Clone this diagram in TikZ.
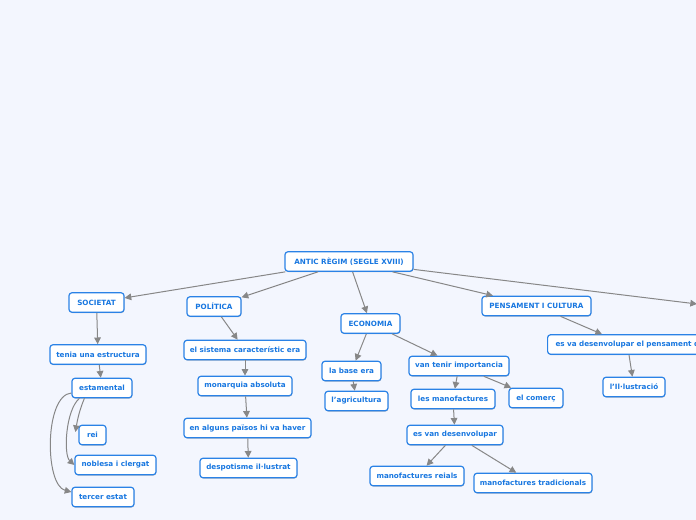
\documentclass[tikz,border=0pt]{standalone}
\usepackage{fontspec}
\setmainfont{DejaVu Sans}
\usetikzlibrary{arrows.meta,calc,shadows}
\definecolor{bg}{HTML}{F3F6FE}
\definecolor{bord}{HTML}{2A82E6}
\definecolor{txt}{HTML}{1877E0}
\definecolor{arrc}{HTML}{878787}
\begin{document}
\begin{tikzpicture}[x=0.75pt,y=-0.75pt,
 box/.style={draw=bord, line width=0.9pt, fill=white, rounded corners=2.2pt, text=txt,
   font=\fontsize{5.4}{6}\selectfont\bfseries, inner xsep=0pt, inner ysep=0pt,
   minimum height=14.6pt,
   drop shadow={shadow xshift=0.3pt, shadow yshift=-0.6pt, opacity=0.25, fill=black}},
 mw/.style={minimum width=#1*0.75pt},
 link/.style={draw=arrc, line width=0.75pt, -{Triangle[length=5pt,width=5pt]}}
]
\fill[bg] (0,0) rectangle (696,520);
\useasboundingbox (0,0) rectangle (696,520);
\begin{scope}
\clip (0,0) rectangle (696,520);
% nodes
\node[box, mw=128] (antic) at (349,261.5) {ANTIC RÈGIM (SEGLE XVIII)};
\node[box, mw=55] (soc) at (96.5,302.5) {SOCIETAT};
\node[box, mw=54] (pol) at (214,306.5) {POLÍTICA};
\node[box, mw=59] (eco) at (370.5,323.5) {ECONOMIA};
\node[box, mw=109] (pens) at (536.5,306) {PENSAMENT I CULTURA};
\coordinate (offr) at (697,304);

\node[box, mw=96] (tenia) at (98,354.5) {tenia una estructura};
\node[box, mw=60] (estam) at (102,388) {estamental};
\node[box, mw=27] (rei) at (92.5,435) {rei};
\node[box, mw=81] (nobl) at (115.5,465) {noblesa i clergat};
\node[box, mw=62] (terc) at (103,497) {tercer estat};

\node[box, mw=122] (sist) at (245,350) {el sistema característic era};
\node[box, mw=94] (mona) at (245,386) {monarquia absoluta};
\node[box, mw=127] (algu) at (247.5,428) {en alguns països hi va haver};
\node[box, mw=97] (desp) at (248.5,468) {despotisme il·lustrat};

\node[box, mw=59] (base) at (351.5,371) {la base era};
\node[box, mw=63] (agri) at (356.5,401) {l'agricultura};
\node[box, mw=100] (vant) at (459,366) {van tenir importancia};
\node[box, mw=84] (lesm) at (453,399) {les manofactures};
\node[box, mw=54] (come) at (536,398) {el comerç};
\node[box, mw=96] (esvan) at (455,435) {es van desenvolupar};
\node[box, mw=94] (reia) at (417,476) {manofactures reials};
\node[box, mw=118] (trad) at (533,483) {manofactures tradicionals};

\node[box, anchor=west, inner xsep=6pt, text width=150pt, align=left] (esva) at (547,344.5) {es va desenvolupar el pensament de};
\node[box, mw=62] (ilus) at (634,387) {l'Il·lustració};

% connectors
\draw[link] (antic) -- (soc);
\draw[link] (antic) -- (pol);
\draw[link] (antic) -- (eco);
\draw[link] (antic) -- (pens);
\draw[link] (antic) -- (offr);

\draw[link] (soc) -- (tenia);
\draw[link] (tenia) -- (estam);
\draw[link] ($(estam.south west)+(13,0)$) .. controls +(-5,12) and +(2,-12) .. ($(rei.west)+(-3,-3)$);
\draw[link] ($(estam.south west)+(8,0)$) .. controls +(-14,12) and +(-11,-10) .. (nobl.west);
\draw[link] ($(estam.west)+(0,5)$) .. controls +(-27,2) and +(-27,-7) .. ($(terc.west)+(0,-5)$);

\draw[link] (pol) -- (sist);
\draw[link] (sist) -- (mona);
\draw[link] (mona) -- (algu);
\draw[link] (algu) -- (desp);

\draw[link] (eco) -- (base);
\draw[link] (eco) -- (vant);
\draw[link] (base) -- (agri);
\draw[link] (vant) -- (lesm);
\draw[link] (vant) -- (come);
\draw[link] (lesm) -- (esvan);
\draw[link] (esvan) -- (reia);
\draw[link] (esvan) -- (trad);

\draw[link] (pens) -- ($(esva.north west)+(55,0)$);
\draw[link] ($(esva.south west)+(82,0)$) -- (ilus);
\end{scope}
\end{tikzpicture}
\end{document}
